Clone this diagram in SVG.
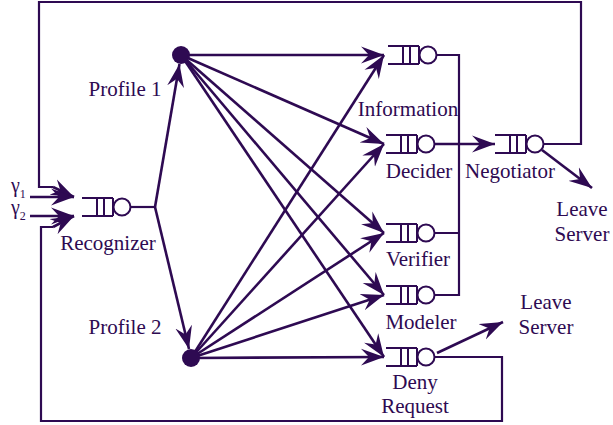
<svg xmlns="http://www.w3.org/2000/svg" xmlns:xlink="http://www.w3.org/1999/xlink" width="613" height="425" viewBox="0 0 613 425">
  <style>
    .ln { fill: none; stroke: #2e0a52; stroke-width: 2.2; }
    .edge { fill: none; stroke: #2e0a52; stroke-width: 2.6; marker-end: url(#head); }
    .q { fill: none; stroke: #2e0a52; stroke-width: 2; }
    .qc { fill: #ffffff; stroke: #2e0a52; stroke-width: 2; }
    .dot { fill: #2e0a52; }
    text { font-family: "Liberation Serif", "Times New Roman", serif; font-size: 21px; fill: #2e0a52; text-anchor: middle; }
    .greek { font-size: 20px; text-anchor: start; }
    .sub { font-size: 12px; }
  </style>
  <defs>
    <marker id="head" markerUnits="userSpaceOnUse" viewBox="-23 -9 24 18" refX="0" refY="0" markerWidth="24" markerHeight="18" orient="auto">
      <path d="M0,0 L-23,-8.5 L-15,0 L-23,8.5 Z" fill="#2e0a52"/>
    </marker>
    <!-- queue: two rails, three bars, server circle; origin = left end, centre line -->
    <g id="queue">
      <path class="q" d="M0,-9 H31 M0,9 H31 M15,-9 V9 M22,-9 V9 M31,-9 V9"/>
      <circle class="qc" cx="40" cy="0" r="8.5"/>
    </g>
  </defs>

  <!-- connectors -->
  <g id="connectors">
    <!-- feedback loops -->
    <path class="ln" d="M544,144 H581 V2 H39 V187 H53"/>
    <path class="edge" d="M53,187 L74,197"/>
    <path class="ln" d="M434,357 H502 V421 H41 V227 H53"/>
    <path class="edge" d="M53,227 L74,216"/>
    <!-- external arrivals -->
    <path class="edge" d="M30,197 H74"/>
    <path class="edge" d="M30,216 H74"/>
    <!-- recognizer to profiles -->
    <path class="ln" d="M131,207 H155"/>
    <path class="edge" d="M155,207 L179.5,64"/>
    <path class="edge" d="M155,207 L189,349"/>
    <!-- profile 1 routes -->
    <path class="edge" d="M181,55 L384,55"/>
    <path class="edge" d="M181,55 L384,144"/>
    <path class="edge" d="M181,55 L384,233"/>
    <path class="edge" d="M181,55 L384,295"/>
    <path class="edge" d="M181,55 L384,357"/>
    <!-- profile 2 routes -->
    <path class="edge" d="M191,358 L384,55"/>
    <path class="edge" d="M191,358 L384,144"/>
    <path class="edge" d="M191,358 L384,233"/>
    <path class="edge" d="M191,358 L384,295"/>
    <path class="edge" d="M191,358 L384,357"/>
    <!-- collector bus into negotiator -->
    <path class="ln" d="M436,55 H459 V295 H434 M434,233 H459"/>
    <path class="edge" d="M434,144 H495"/>
    <!-- departures -->
    <path class="edge" d="M542,150 L592,188"/>
    <path class="edge" d="M437,353 L503,322"/>
  </g>

  <g id="recognizer">
    <use xlink:href="#queue" x="82" y="207"/>
    <text x="108" y="250">Recognizer</text>
    <text class="greek" x="11" y="192">γ<tspan class="sub" dy="6">1</tspan></text>
    <text class="greek" x="11" y="214">γ<tspan class="sub" dy="6">2</tspan></text>
  </g>
  <g id="profile1">
    <circle class="dot" cx="181" cy="55" r="9"/>
    <text x="125" y="96">Profile 1</text>
  </g>
  <g id="profile2">
    <circle class="dot" cx="191" cy="358" r="9"/>
    <text x="125" y="334">Profile 2</text>
  </g>
  <g id="information">
    <use xlink:href="#queue" x="388" y="55"/>
    <text x="408" y="116">Information</text>
  </g>
  <g id="decider">
    <use xlink:href="#queue" x="386" y="144"/>
    <text x="419" y="178">Decider</text>
  </g>
  <g id="negotiator">
    <use xlink:href="#queue" x="495" y="144"/>
    <text x="510" y="178">Negotiator</text>
  </g>
  <g id="verifier">
    <use xlink:href="#queue" x="386" y="233"/>
    <text x="418" y="266">Verifier</text>
  </g>
  <g id="modeler">
    <use xlink:href="#queue" x="386" y="295"/>
    <text x="421" y="329">Modeler</text>
  </g>
  <g id="deny-request">
    <use xlink:href="#queue" x="386" y="357"/>
    <text x="415" y="389">Deny</text>
    <text x="415" y="413">Request</text>
  </g>
  <g id="leave-server-1">
    <text x="582" y="216">Leave</text>
    <text x="582" y="241">Server</text>
  </g>
  <g id="leave-server-2">
    <text x="546" y="309">Leave</text>
    <text x="546" y="334">Server</text>
  </g>
</svg>
